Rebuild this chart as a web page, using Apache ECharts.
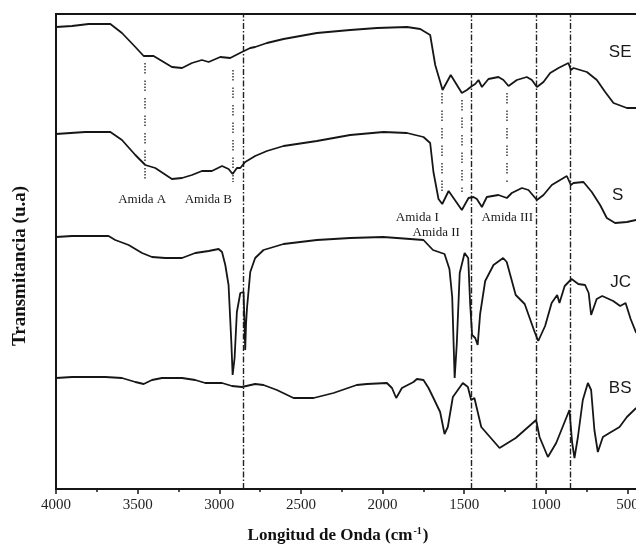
<!DOCTYPE html>
<html>
<head>
<meta charset="utf-8">
<script src="https://cdn.jsdelivr.net/npm/echarts@6/dist/echarts.min.js"></script>
<style>
  html, body { margin: 0; padding: 0; background: #fff; }
  #chart { width: 636px; height: 556px; }
</style>
</head>
<body>
<div id="chart"></div>
<script>
// espectros FTIR: [numero de onda (cm-1), transmitancia (u.a), desplazada]
const seData = [
  [4000, 462], [3902, 463], [3800, 465], [3667, 465], [3596, 456], [3514, 442], [3463, 433],
  [3402, 433], [3290, 422], [3228, 421], [3167, 426], [3106, 429], [3065, 427], [2994, 432],
  [2933, 431], [2861, 437], [2810, 441], [2780, 442], [2708, 446], [2606, 450], [2402, 456],
  [2198, 459], [2034, 461], [1850, 462], [1769, 460], [1708, 454], [1677, 424], [1632, 399],
  [1582, 414], [1514, 396], [1483, 399], [1452, 403], [1432, 405], [1412, 409], [1391, 402],
  [1351, 410], [1290, 412], [1259, 409], [1228, 403], [1177, 409], [1116, 412], [1085, 409],
  [1054, 402], [1014, 407], [973, 416], [922, 421], [861, 426], [846, 419], [830, 421],
  [748, 417], [687, 409], [636, 397], [585, 386], [503, 381], [446, 381]
];
const sData = [
  [4000, 355], [3821, 357], [3667, 357], [3596, 349], [3514, 334], [3453, 324], [3392, 321],
  [3290, 310], [3228, 311], [3167, 314], [3106, 318], [3045, 318], [2983, 323], [2943, 320],
  [2918, 315], [2892, 321], [2871, 321], [2841, 327], [2780, 333], [2708, 338], [2606, 343],
  [2402, 348], [2198, 354], [1994, 357], [1850, 356], [1749, 352], [1708, 346], [1688, 317],
  [1657, 290], [1634, 285], [1595, 298], [1514, 279], [1473, 291], [1443, 292], [1422, 290],
  [1391, 282], [1361, 292], [1290, 294], [1238, 291], [1208, 296], [1146, 301], [1106, 299],
  [1054, 289], [1014, 294], [963, 304], [871, 313], [846, 304], [830, 306], [769, 307],
  [718, 297], [667, 284], [626, 271], [575, 266], [503, 267], [446, 269]
];
const jcData = [
  [4000, 252], [3902, 253], [3678, 253], [3637, 249], [3555, 244], [3473, 236], [3412, 232],
  [3331, 231], [3228, 231], [3147, 236], [3065, 238], [3004, 240], [2983, 237], [2963, 224],
  [2943, 204], [2926, 147], [2918, 114], [2906, 131], [2892, 177], [2871, 196], [2851, 197],
  [2845, 164], [2841, 139], [2836, 165], [2830, 181], [2810, 217], [2780, 231], [2729, 239],
  [2606, 245], [2402, 249], [2198, 251], [1996, 252], [1912, 251], [1749, 249], [1691, 239],
  [1620, 235], [1590, 220], [1573, 192], [1558, 111], [1545, 145], [1527, 216], [1497, 236],
  [1475, 231], [1463, 185], [1451, 154], [1432, 151], [1417, 144], [1402, 175], [1371, 208],
  [1320, 224], [1261, 231], [1239, 227], [1184, 194], [1129, 185], [1068, 157], [1046, 148],
  [1004, 163], [964, 186], [930, 194], [916, 186], [884, 203], [842, 210], [801, 205],
  [759, 204], [737, 196], [722, 174], [688, 190], [654, 193], [587, 188], [544, 183],
  [511, 186], [480, 170], [446, 156]
];
const bsData = [
  [4000, 111], [3902, 112], [3800, 112], [3698, 112], [3596, 111], [3514, 107], [3463, 105],
  [3412, 109], [3351, 111], [3228, 111], [3147, 109], [3086, 106], [2983, 106], [2922, 103],
  [2861, 102], [2780, 105], [2729, 104], [2647, 99], [2545, 91], [2422, 91], [2300, 96],
  [2158, 104], [2095, 105], [1973, 106], [1942, 101], [1916, 91], [1881, 101], [1810, 107],
  [1789, 110], [1749, 109], [1718, 101], [1688, 91], [1647, 77], [1620, 55], [1600, 62],
  [1569, 92], [1508, 106], [1477, 102], [1457, 89], [1437, 91], [1395, 62], [1283, 41],
  [1184, 51], [1059, 69], [1038, 52], [987, 32], [936, 46], [855, 79], [838, 46], [824, 31],
  [803, 52], [773, 89], [742, 106], [722, 99], [702, 59], [681, 37], [650, 52], [610, 56],
  [548, 62], [503, 72], [446, 81]
];

// lineas de referencia (trazo-punto) en cm-1
const refLines = [2850, 1455, 1060, 850];
// marcas de amidas: [cm-1, extremo superior, extremo inferior]
const amidaLines = [[3455, 426, 306], [2920, 419, 307], [1635, 396, 296], [1516, 389, 296], [1241, 396, 306]];
const amidaLabels = [[3472, 289, 'Amida A'], [3067, 289, 'Amida B'], [1787, 271, 'Amida I'], [1671, 256, 'Amida II'], [1236, 271, 'Amida III']];
const curveNames = [[544, 437, 'SE'], [560, 294, 'S'], [541, 207, 'JC'], [544, 101, 'BS']];

const xMin = 0, xMax = 4000, xStep = 500;
const yMin = 0, yMax = 475;

const chart = echarts.init(document.getElementById('chart'));
const serif = '"Liberation Serif", "DejaVu Serif", serif';
const ink = '#161616';

const curve = (name, data) => ({
  name, type: 'line', data,
  showSymbol: false, symbol: 'none', smooth: false,
  lineStyle: { color: ink, width: 1.8 },
  z: 5
});

// etiquetas de texto colocadas en coordenadas de datos
const textLayer = (items, font, size) => ({
  type: 'scatter', symbolSize: 1, silent: true, z: 6,
  itemStyle: { color: 'rgba(0,0,0,0)' },
  data: items.map(a => ({ value: [a[0], a[1]], name: a[2] })),
  label: { show: true, opacity: 1, position: 'inside', formatter: '{b}', color: '#1a1a1a', fontFamily: font, fontSize: size }
});

const option = {
  animation: false,
  backgroundColor: '#fff',
  grid: {
    left: 56, top: 14, width: 653, height: 475,
    outerBoundsMode: 'none', containLabel: false,
    show: true, borderColor: ink, borderWidth: 2, backgroundColor: 'transparent'
  },
  xAxis: {
    type: 'value', inverse: true, min: xMin, max: xMax, interval: xStep,
    axisLine: { show: true, onZero: false, lineStyle: { color: ink, width: 2 } },
    axisTick: { show: true, inside: false, length: 5, lineStyle: { color: ink, width: 1.5 } },
    minorTick: { show: true, splitNumber: 2, length: 3, lineStyle: { color: ink, width: 1.5 } },
    splitLine: { show: false },
    axisLabel: { color: '#222', fontFamily: serif, fontSize: 15, margin: 9, formatter: v => String(v) }
  },
  yAxis: {
    type: 'value', min: yMin, max: yMax,
    axisLine: { show: true, onZero: false, lineStyle: { color: ink, width: 2 } },
    axisTick: { show: false }, axisLabel: { show: false }, splitLine: { show: false }
  },
  series: [
    Object.assign(curve('SE', seData), {
      markLine: {
        silent: true, symbol: 'none', animation: false,
        label: { show: false },
        lineStyle: { color: '#222', width: 1.4, type: [6, 2, 1.5, 2] },
        data: refLines.map(v => ({ xAxis: v }))
      }
    }),
    Object.assign(curve('S', sData), {
      markLine: {
        silent: true, symbol: 'none', animation: false,
        label: { show: false },
        lineStyle: { color: '#444', width: 1.6, type: [1.5, 1.5, 1.5, 1.5, 1.5, 1.5, 1.5, 7] },
        data: amidaLines.map(a => [{ coord: [a[0], a[1]] }, { coord: [a[0], a[2]] }])
      }
    }),
    curve('JC', jcData),
    curve('BS', bsData),
    textLayer(amidaLabels, serif, 13),
    textLayer(curveNames, '"Liberation Sans", Arial, sans-serif', 17)
  ],
  graphic: [
    {
      type: 'text', x: 338, y: 536,
      style: {
        text: '{a|Longitud de Onda (cm}{s|-1}{a|)}',
        textAlign: 'center', textVerticalAlign: 'middle', align: 'center', verticalAlign: 'middle',
        rich: {
          a: { fontFamily: serif, fontWeight: 'bold', fontSize: 17, fill: '#111', color: '#111', lineHeight: 20 },
          s: { fontFamily: serif, fontWeight: 'bold', fontSize: 10, fill: '#111', color: '#111', lineHeight: 20, verticalAlign: 'top', padding: [0, 1, 8, 1] }
        }
      }
    },
    {
      type: 'text', x: 20, y: 266, rotation: Math.PI / 2,
      style: {
        text: 'Transmitancia (u.a)',
        textAlign: 'center', textVerticalAlign: 'middle', align: 'center', verticalAlign: 'middle',
        font: 'bold 19px ' + serif, fill: '#111'
      }
    }
  ]
};

chart.setOption(option);
window.addEventListener('resize', chart.resize);
</script>
</body>
</html>
